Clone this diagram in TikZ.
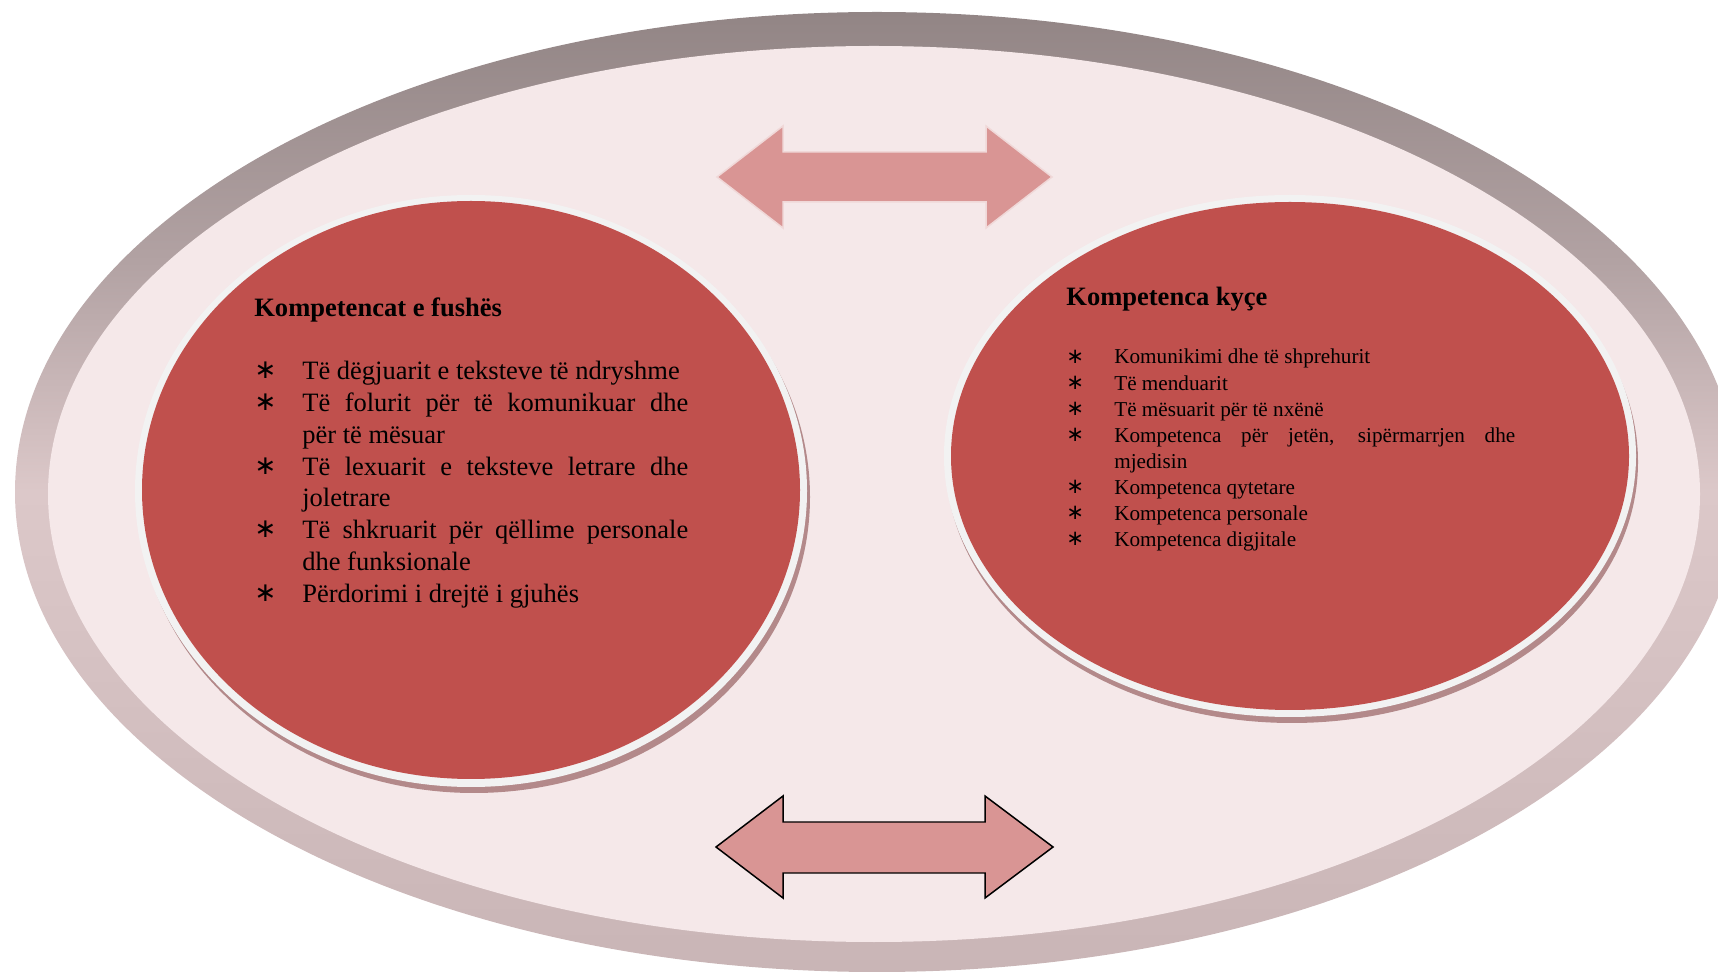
\documentclass[tikz,border=0pt]{standalone}
\usepackage{fontspec}
\setmainfont{Liberation Serif}
\newfontfamily\starfont{DejaVu Sans}
\usepackage{tikz}
\definecolor{ringtop}{HTML}{928585}
\definecolor{ringupper}{HTML}{B2A2A3}
\definecolor{ringmid}{HTML}{DCC8C9}
\definecolor{ringbot}{HTML}{C9B5B6}
\definecolor{pale}{HTML}{F5E8E9}
\definecolor{compred}{HTML}{C0504D}
\definecolor{rimwhite}{HTML}{F2F2F2}
\definecolor{rimshadow}{HTML}{B3898A}
\definecolor{arrowpink}{HTML}{D99594}
\definecolor{arrowglow}{HTML}{F0D8D8}

\pgfdeclareverticalshading{ringshade}{100bp}{color(0bp)=(ringbot); color(25bp)=(ringbot);
  color(50bp)=(ringmid); color(62bp)=(ringupper); color(75bp)=(ringtop); color(100bp)=(ringtop)}

% one list line: star, then hanging text
\newcommand{\kitem}[1]{\hangindent=0.96cm\hangafter=1\noindent
  \makebox[0.96cm][l]{\raisebox{0.04em}{\starfont ∗}}#1\par}

\tikzset{
  bigarrow/.style={fill=arrowpink, line width=0.85pt, line join=miter},
  heading/.style={anchor=base west, inner sep=0pt, font=\bfseries\fontsize{15.1pt}{18pt}\selectfont},
  listbox/.style={anchor=base west, inner sep=0pt}
}

\begin{document}
\begin{tikzpicture}[x=0.02cm, y=-0.02cm]
      \clip (0,0) rectangle (1718,972);

      % Draw outer ring
      \shade[shading=ringshade] (877,492) ellipse [x radius=862, y radius=480];
      \fill[pale] (874,494) ellipse [x radius=826, y radius=448];

      % Draw left circle
      \fill[rimshadow] (474,497) ellipse [x radius=336, y radius=296];
      \fill[rimwhite] (471,491) ellipse [x radius=336, y radius=296];
      \fill[compred] (471,490) ellipse [x radius=329, y radius=289];

      % Draw right circle
      \fill[rimshadow] (1292,462) ellipse [x radius=346, y radius=261];
      \fill[rimwhite] (1290,456) ellipse [x radius=346, y radius=261];
      \fill[compred] (1290,456) ellipse [x radius=339, y radius=254];

      % Draw top arrow
      \draw[bigarrow, draw=arrowglow] (717,177) -- (783,126) -- (783,152) -- (986,152) -- (986,126)
        -- (1052,177) -- (986,228) -- (986,202) -- (783,202) -- (783,228) -- cycle;

      % Draw bottom arrow
      \draw[bigarrow, draw=black] (716,847) -- (783,796) -- (783,822) -- (985,822) -- (985,796)
        -- (1053,847) -- (985,898) -- (985,873) -- (783,873) -- (783,898) -- cycle;

      % Left texts
      \node (fushetitle) [heading] at (254,317) {Kompetencat e fushës};
      \node (fushelist) [listbox] at (254,380) {\parbox[t]{8.68cm}{%
        \fontsize{15.08pt}{18.07pt}\selectfont
        \tolerance=10000 \hyphenpenalty=10000 \parindent=0pt
        \kitem{Të dëgjuarit e teksteve të ndryshme}
        \kitem{Të folurit për të komunikuar dhe\linebreak për të mësuar}
        \kitem{Të lexuarit e teksteve letrare dhe\linebreak joletrare}
        \kitem{Të shkruarit për qëllime personale\linebreak dhe funksionale}
        \kitem{Përdorimi i drejtë i gjuhës}}};

      % Right texts
      \node (kycetitle) [heading] at (1066,306) {Kompetenca kyçe};
      \node (kycelist) [listbox] at (1066,364) {\parbox[t]{8.98cm}{%
        \fontsize{12.06pt}{14.85pt}\selectfont
        \tolerance=10000 \hyphenpenalty=10000 \parindent=0pt
        \kitem{Komunikimi dhe të shprehurit}
        \kitem{Të menduarit}
        \kitem{Të mësuarit për të nxënë}
        \kitem{Kompetenca për jetën, sipërmarrjen dhe\linebreak mjedisin}
        \kitem{Kompetenca qytetare}
        \kitem{Kompetenca personale}
        \kitem{Kompetenca digjitale}}};
    \end{tikzpicture}
\end{document}
